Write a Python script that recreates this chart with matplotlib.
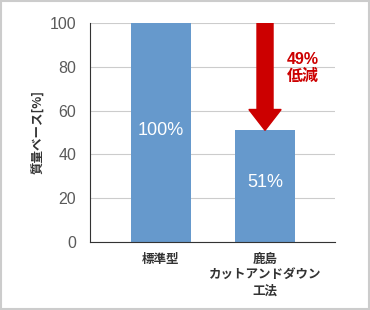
import numpy as np
import matplotlib
matplotlib.use('Agg')
import matplotlib.pyplot as plt
from matplotlib.patches import FancyArrow, Rectangle

plt.rcParams['font.family'] = ['Noto Sans CJK JP', 'DejaVu Sans']
LATIN = ['Liberation Sans', 'Noto Sans CJK JP']

# data
categories = ['標準型', '鹿島\nカットアンドダウン\n工法']
values = [100, 51]
bar_labels = ['100%', '51%']
reduction_label = '49%\n低減'
yticks = [0, 20, 40, 60, 80, 100]

fig = plt.figure(figsize=(3.7, 3.1), dpi=100)
ax = fig.add_axes([90 / 370, 1 - 242 / 310, 245 / 370, 219 / 310])

x = np.arange(len(categories))
ax.bar(x, values, width=0.577, color='#6699cc', zorder=2)

# value labels inside bars
ax.text(x[0], 51, bar_labels[0], color='white', ha='center', va='center',
        fontsize=13, family=LATIN)
ax.text(x[1], 27, bar_labels[1], color='white', ha='center', va='center',
        fontsize=13, family=LATIN)

# reduction arrow
arr = FancyArrow(x[1], values[0], 0, values[1] - values[0], width=0.154,
                 head_width=0.31, head_length=9.5, length_includes_head=True,
                 color='#cc0000', zorder=3)
ax.add_patch(arr)
ax.text(x[1] + 0.36, 79.5, reduction_label, color='#cc0000', ha='center', va='center',
        fontsize=11.5, fontweight='bold', linespacing=1.15, family=LATIN)

ax.set_xlim(-0.683, 1.673)
ax.set_ylim(0, 100)
ax.set_yticks(yticks)
ax.set_yticklabels([str(t) for t in yticks], color='#5a5a5a', fontsize=11.5, family=LATIN)
ax.set_xticks(x)
ax.set_xticklabels(categories, fontsize=9, fontweight='bold', color='#333333', linespacing=1.3)
ax.tick_params(length=0, pad=8)
ax.tick_params(axis='y', pad=10)
ax.grid(axis='y', color='#cccccc', linewidth=0.8, zorder=0)
for s in ['top', 'right']:
    ax.spines[s].set_visible(False)
ax.spines['left'].set_color('#333333')
ax.spines['bottom'].set_color('#333333')
ax.set_ylabel('質量ベース[%]', fontsize=9, fontweight='bold', color='#333333', va='center')
ax.yaxis.set_label_coords(-(90 - 39) / 245, 0.5)

# light border around figure
fig.patches.append(Rectangle((0.002, 0.003), 0.996, 0.994, transform=fig.transFigure,
                             fill=False, edgecolor='#cccccc', linewidth=1.5))

fig.savefig('out.png', dpi=100)
